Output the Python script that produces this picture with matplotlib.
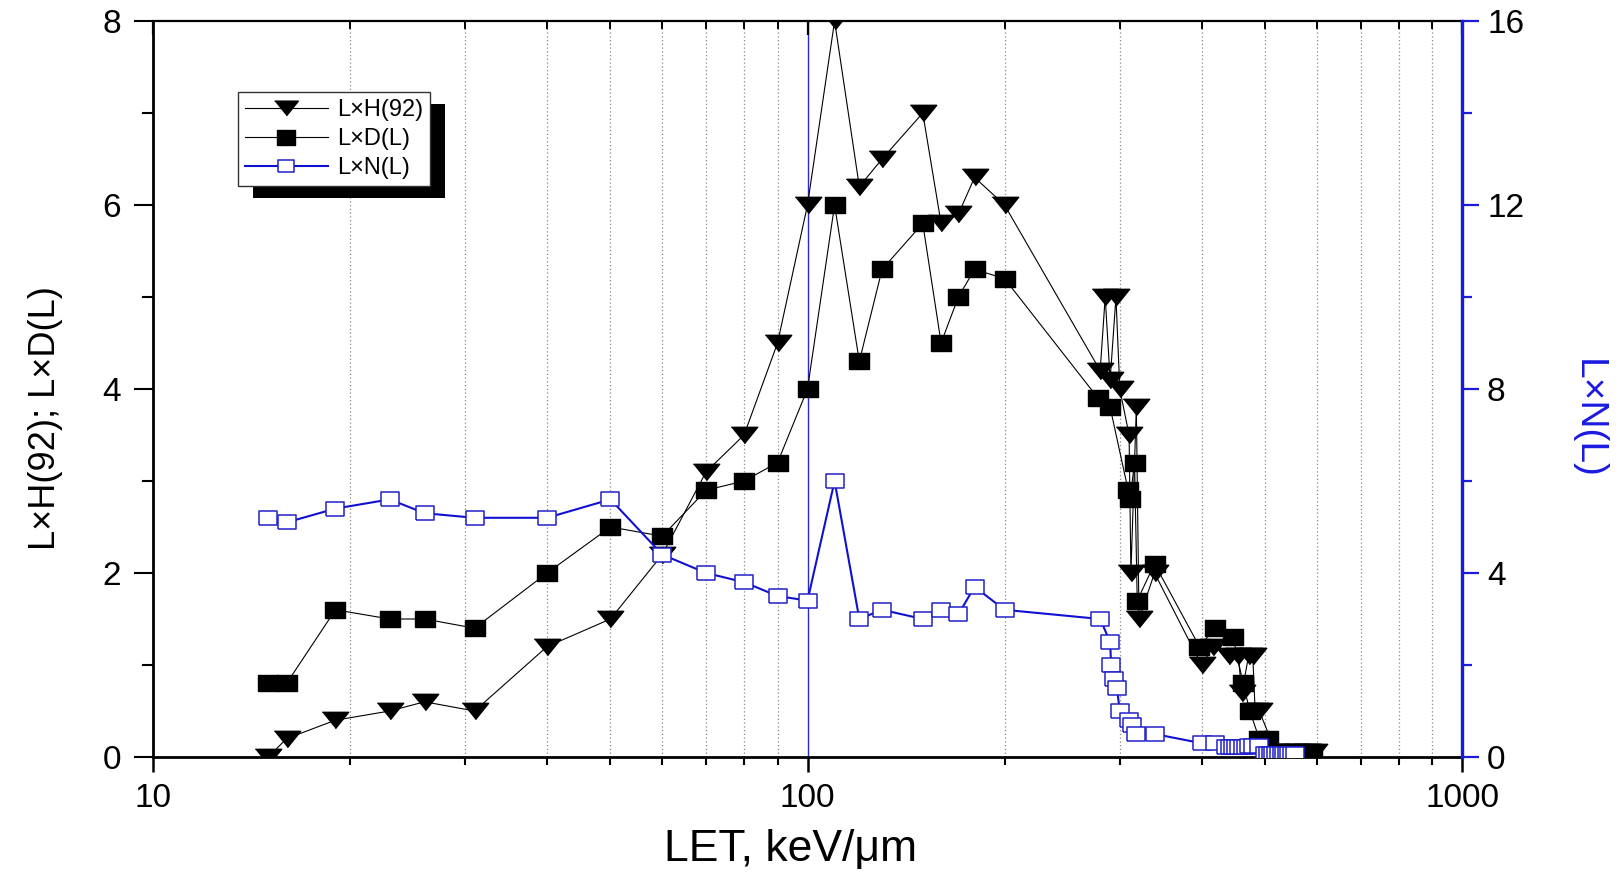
import matplotlib
matplotlib.use("Agg")
import matplotlib.pyplot as plt
from matplotlib.ticker import LogLocator, FixedLocator, NullFormatter, FixedFormatter
from matplotlib.patches import Rectangle

plt.rcParams['font.family'] = ['Liberation Sans', 'DejaVu Sans']

# ---- data ----
h_x = [15, 16, 19, 23, 26, 31, 40, 50, 60, 70, 80, 90, 100, 110, 120, 130, 150, 160, 170, 180, 200,
       280, 285, 290, 296, 300, 310, 312, 318, 321, 339, 400, 417, 440, 455, 461, 472, 479, 483, 490,
       520, 540, 560, 580, 595]
h_y = [0.0, 0.2, 0.4, 0.5, 0.6, 0.5, 1.2, 1.5, 2.2, 3.1, 3.5, 4.5, 6.0, 8.0, 6.2, 6.5, 7.0, 5.8, 5.9, 6.3, 6.0,
       4.2, 5.0, 4.1, 5.0, 4.0, 3.5, 2.0, 3.8, 1.5, 2.0, 1.0, 1.2, 1.1, 1.1, 0.7, 1.1, 1.1, 0.5, 0.5,
       0.05, 0.05, 0.05, 0.05, 0.05]

d_x = [15, 16, 19, 23, 26, 31, 40, 50, 60, 70, 80, 90, 100, 110, 120, 130, 150, 160, 170, 180, 200,
       278, 290, 309, 311, 316, 319, 339, 397, 419, 447, 463, 474, 490, 505, 520, 540, 560, 580, 590]
d_y = [0.8, 0.8, 1.6, 1.5, 1.5, 1.4, 2.0, 2.5, 2.4, 2.9, 3.0, 3.2, 4.0, 6.0, 4.3, 5.3, 5.8, 4.5, 5.0, 5.3, 5.2,
       3.9, 3.8, 2.9, 2.8, 3.2, 1.7, 2.1, 1.2, 1.4, 1.3, 0.8, 0.5, 0.2, 0.2, 0.05, 0.05, 0.05, 0.05, 0.05]

n_x = [15, 16, 19, 23, 26, 31, 40, 50, 60, 70, 80, 90, 100, 110, 120, 130, 150, 160, 170, 180, 200,
       280, 290, 291, 294, 297, 300, 310, 313, 318, 339, 400, 419, 436, 442, 447, 452, 457, 462, 467,
       472, 480, 490, 500, 505, 510, 515, 520, 525, 530, 535, 540, 545, 550, 555]
n_y = [5.2, 5.1, 5.4, 5.6, 5.3, 5.2, 5.2, 5.6, 4.4, 4.0, 3.8, 3.5, 3.4, 6.0, 3.0, 3.2, 3.0, 3.2, 3.1, 3.7, 3.2,
       3.0, 2.5, 2.0, 1.7, 1.5, 1.0, 0.8, 0.7, 0.5, 0.5, 0.3, 0.3, 0.22, 0.22, 0.22, 0.22, 0.22, 0.22, 0.22,
       0.25, 0.25, 0.25, 0.07, 0.07, 0.07, 0.07, 0.07, 0.07, 0.07, 0.07, 0.07, 0.07, 0.07, 0.07]

labels = ["L\u00d7H(92)", "L\u00d7D(L)", "L\u00d7N(L)"]
x_ticks = [10, 100, 1000]
x_ticklabels = ["10", "100", "1000"]
left_ticks = [0, 2, 4, 6, 8]
right_ticks = [0, 4, 8, 12, 16]

# ---- figure ----
W, H = 1622, 874
fig = plt.figure(figsize=(W / 100, H / 100), dpi=100)
L, R, T, B = 153, 1462, 21, 757
ax = fig.add_axes([L / W, 1 - B / H, (R - L) / W, (B - T) / H])
ax2 = ax.twinx()

tri = [(-1, 0.62), (1, 0.62), (0, -0.62)]
sq_k = [(-1, -0.8), (1, -0.8), (1, 0.8), (-1, 0.8), (-1, -0.8)]
sq_b = [(-1, -0.75), (1, -0.75), (1, 0.75), (-1, 0.75), (-1, -0.75)]

lh, = ax.plot(h_x, h_y, color='black', lw=0.8, marker=tri, ms=19, mfc='black', mec='black', zorder=3)
ld, = ax.plot(d_x, d_y, color='black', lw=0.8, marker=sq_k, ms=15, mfc='black', mec='black', zorder=3)
ln, = ax2.plot(n_x, n_y, color='#1010d0', lw=1.5, marker=sq_b, ms=12.5, mfc='white', mec='#2020c8',
               mew=1.1, zorder=3)

ax.set_xscale('log')
ax.set_xlim(10, 1000)
ax.set_ylim(0, 8)
ax2.set_ylim(0, 16)

# x ticks
ax.xaxis.set_major_locator(FixedLocator(x_ticks))
ax.xaxis.set_major_formatter(FixedFormatter(x_ticklabels))
ax.xaxis.set_minor_locator(LogLocator(base=10, subs=range(2, 10)))
ax.xaxis.set_minor_formatter(NullFormatter())
ax.tick_params(axis='x', which='major', direction='out', length=11, width=1.8, labelsize=24, pad=8,
               top=False)
ax.tick_params(axis='x', which='minor', direction='out', length=6, width=1.5, top=False)
ax.xaxis.grid(True, which='minor', linestyle=(0, (1, 2)), color='#888888', lw=0.9)
ax.axvline(100, color='#2a2ad0', lw=1.0, zorder=1)

# top ticks via twin's x axis
ax2.xaxis.set_visible(True)
ax2.tick_params(axis='x', which='both', top=True, bottom=False, labeltop=False, labelbottom=False,
                direction='in')
ax2.tick_params(axis='x', which='major', length=10, width=1.6)
ax2.tick_params(axis='x', which='minor', length=6, width=1.4)

# left y
ax.yaxis.set_major_locator(FixedLocator(left_ticks))
ax.yaxis.set_minor_locator(FixedLocator([1, 3, 5, 7]))
ax.tick_params(axis='y', which='major', direction='out', length=14, width=1.5, labelsize=24, pad=9)
ax.tick_params(axis='y', which='minor', direction='out', length=8, width=1.5)

# right y
ax2.yaxis.set_major_locator(FixedLocator(right_ticks))
ax2.yaxis.set_minor_locator(FixedLocator([2, 6, 10, 14]))
ax2.tick_params(axis='y', which='major', direction='out', length=12, width=1.6, labelsize=24, pad=6,
                color='#1a1ae0', labelcolor='black')
ax2.tick_params(axis='y', which='minor', direction='out', length=7, width=1.6, color='#1a1ae0')

for s in ['left', 'bottom']:
    ax.spines[s].set_linewidth(2.0)
ax.spines['top'].set_linewidth(1.6)
ax.spines['right'].set_visible(False)
for s in ['left', 'bottom', 'top']:
    ax2.spines[s].set_visible(False)
ax2.spines['right'].set_color('#1a1ae0')
ax2.spines['right'].set_linewidth(2.4)

# axis labels
fig.text(46 / W, 1 - 418 / H, "L\u00d7H(92); L\u00d7D(L)", rotation=90, ha='center', va='center',
         fontsize=26)
fig.text(791 / W, 1 - 861 / H, "LET, keV/\u03bcm", ha='center', va='baseline', fontsize=32)
fig.text(1588 / W, 1 - 419 / H, "L\u00d7N(L)", rotation=270, ha='center', va='center', fontsize=28,
         color='#1a1ae0')

# legend
leg = ax2.legend([lh, ld, ln], labels, loc='upper left', bbox_to_anchor=((238 - L) / (R - L), (B - 92) / (B - T)),
                 borderaxespad=0, fontsize=17, handlelength=3.5, frameon=True, fancybox=False,
                 edgecolor='#333333', framealpha=1, borderpad=0.3, labelspacing=0.3, handletextpad=0.4,
                 markerscale=0.9)
leg.get_frame().set_linewidth(1.0)
leg.set_zorder(6)

fig.canvas.draw()
bb = leg.get_window_extent()
inv = fig.transFigure.inverted()
(x0, y0) = inv.transform((bb.x0 + 15, bb.y0 - 12))
(x1, y1) = inv.transform((bb.x1 + 15, bb.y1 - 12))
shadow = Rectangle((x0, y0), x1 - x0, y1 - y0, transform=fig.transFigure, facecolor='black',
                   edgecolor='none', zorder=5.5, clip_on=False)
ax2.add_artist(shadow)

fig.savefig("out.png", dpi=100)
